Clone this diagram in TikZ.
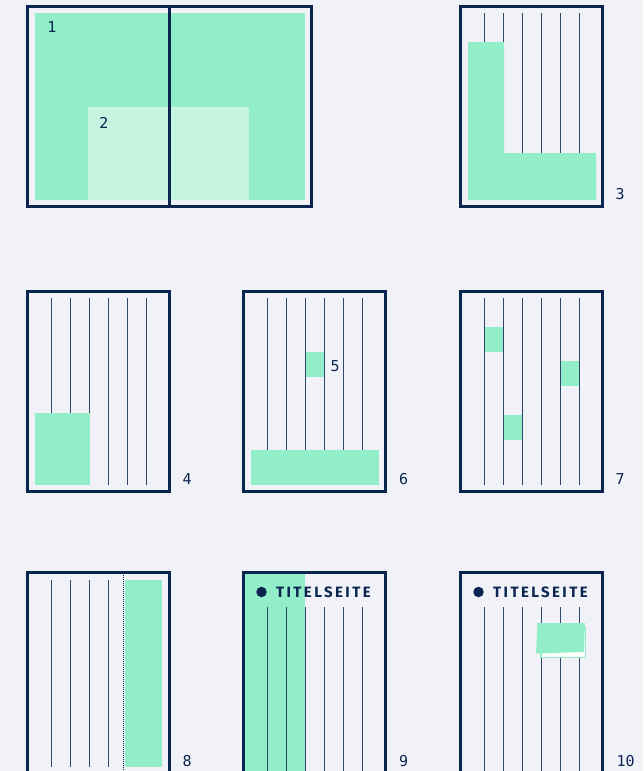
\documentclass[tikz,border=0pt]{standalone}
\usepackage{fontspec}
\setmainfont{Fira Sans}
\newfontfamily\labelfont{DejaVu Sans Mono}
\newfontfamily\headfont[LetterSpace=16]{Fira Sans Bold}
\definecolor{bg}{HTML}{F0F2F7}
\definecolor{navy}{HTML}{0B2550}
\definecolor{mint}{HTML}{92EEC8}
\definecolor{mintlight}{HTML}{C5F5E0}
\tikzset{
  frame/.style={draw=navy, line width=2.4pt},
  colline/.style={draw=navy!85, line width=1.4pt},
  area/.style={fill=mint},
  num/.style={font=\labelfont\fontsize{15}{17}\selectfont, text=navy, inner sep=0pt, anchor=west},
  head/.style={font=\headfont\fontsize{15}{17}\selectfont, text=navy, inner sep=0pt, anchor=west},
  dot/.style={circle, fill=navy, minimum size=10.5pt, inner sep=0pt},
}
\begin{document}
\begin{tikzpicture}[x=1pt,y=-1pt]
\fill[bg] (0,0) rectangle (643,771);
\useasboundingbox (0,0) rectangle (643,771);
\clip (0,0) rectangle (643,771);

% ---------- Panel 1 (double page)
\fill[mint] (35,13) rectangle (305,200);
\fill[mintlight] (88,107) rectangle (249,200);
\draw[frame] (27.5,6.5) rectangle (311.5,206.5);
\draw[frame] (169.5,6.5) -- (169.5,206.5);
\node[num, anchor=center] (n1) at (52,27) {1};
\node[num, anchor=center] (n2) at (104,122.5) {2};

% ---------- Panel 3
\foreach \k in {0,...,5} \draw[colline] ({484.2+19*\k},13) -- ({484.2+19*\k},200);
\fill[mint] (468,42) -- (504,42) -- (504,153) -- (596,153) -- (596,200) -- (468,200) -- cycle;
\draw[frame] (460.5,6.5) rectangle (602.5,206.5);
\node[num] (n3) at (615.5,194.5) {3};

% ---------- Panel 4
\foreach \k in {0,...,5} \draw[colline] ({51.2+19*\k},298) -- ({51.2+19*\k},485);
\fill[mint] (35,413) rectangle (90,485);
\draw[frame] (27.5,291.5) rectangle (169.5,491.5);
\node[num] (n4) at (182.5,479.5) {4};

% ---------- Panel 6
\fill[mint] (305.5,352) rectangle (324,377);
\foreach \k in {0,...,5} \draw[colline] ({267.2+19*\k},298) -- ({267.2+19*\k},485);
\fill[mint] (251,450) rectangle (379,485);
\draw[frame] (243.5,291.5) rectangle (385.5,491.5);
\node[num] (n5) at (330.5,366) {5};
\node[num] (n6) at (399,479.5) {6};

% ---------- Panel 7
\fill[mint] (484.5,327) rectangle (503,352);
\fill[mint] (503.5,415) rectangle (522,440);
\fill[mint] (560.5,361) rectangle (579,386);
\foreach \k in {0,...,5} \draw[colline] ({484.2+19*\k},298) -- ({484.2+19*\k},485);
\draw[frame] (460.5,291.5) rectangle (602.5,491.5);
\node[num] (n7) at (615.5,479.5) {7};

% ---------- Panel 8
\foreach \k in {0,...,3} \draw[colline] ({51.2+19*\k},580) -- ({51.2+19*\k},767);
\draw[navy, line width=1pt, dash pattern=on 1pt off 1pt] (123,572.5) -- (123,772);
\fill[mint] (125,580) rectangle (162,767);
\draw[frame] (27.5,572.5) rectangle (169.5,772.5);
\node[num] (n8) at (182.5,761.5) {8};

% ---------- Panel 9
\fill[mint] (244.5,573.5) rectangle (305,772);
\foreach \k in {0,...,5} \draw[colline] ({267.2+19*\k},607) -- ({267.2+19*\k},772);
\node[dot] (d9) at (261.5,592) {};
\node[head] (t9) at (276,592) {TITELSEITE};
\draw[frame] (243.5,572.5) rectangle (385.5,772.5);
\node[num] (n9) at (399,761.5) {9};

% ---------- Panel 10
\foreach \k in {0,...,5} \draw[colline] ({484.2+19*\k},607) -- ({484.2+19*\k},772);
\node[dot] (d10) at (478.5,592) {};
\node[head] (t10) at (493,592) {TITELSEITE};
\draw[fill=white, draw=mint, line width=1.6pt] (541,628) rectangle (585.5,657.5);
\fill[mint] (537.5,623) -- (585,623) -- (584,652) -- (536,653.5) -- cycle;
\draw[frame] (460.5,572.5) rectangle (602.5,772.5);
\node[num] (n10) at (616.5,761.5) {10};
\end{tikzpicture}
\end{document}
